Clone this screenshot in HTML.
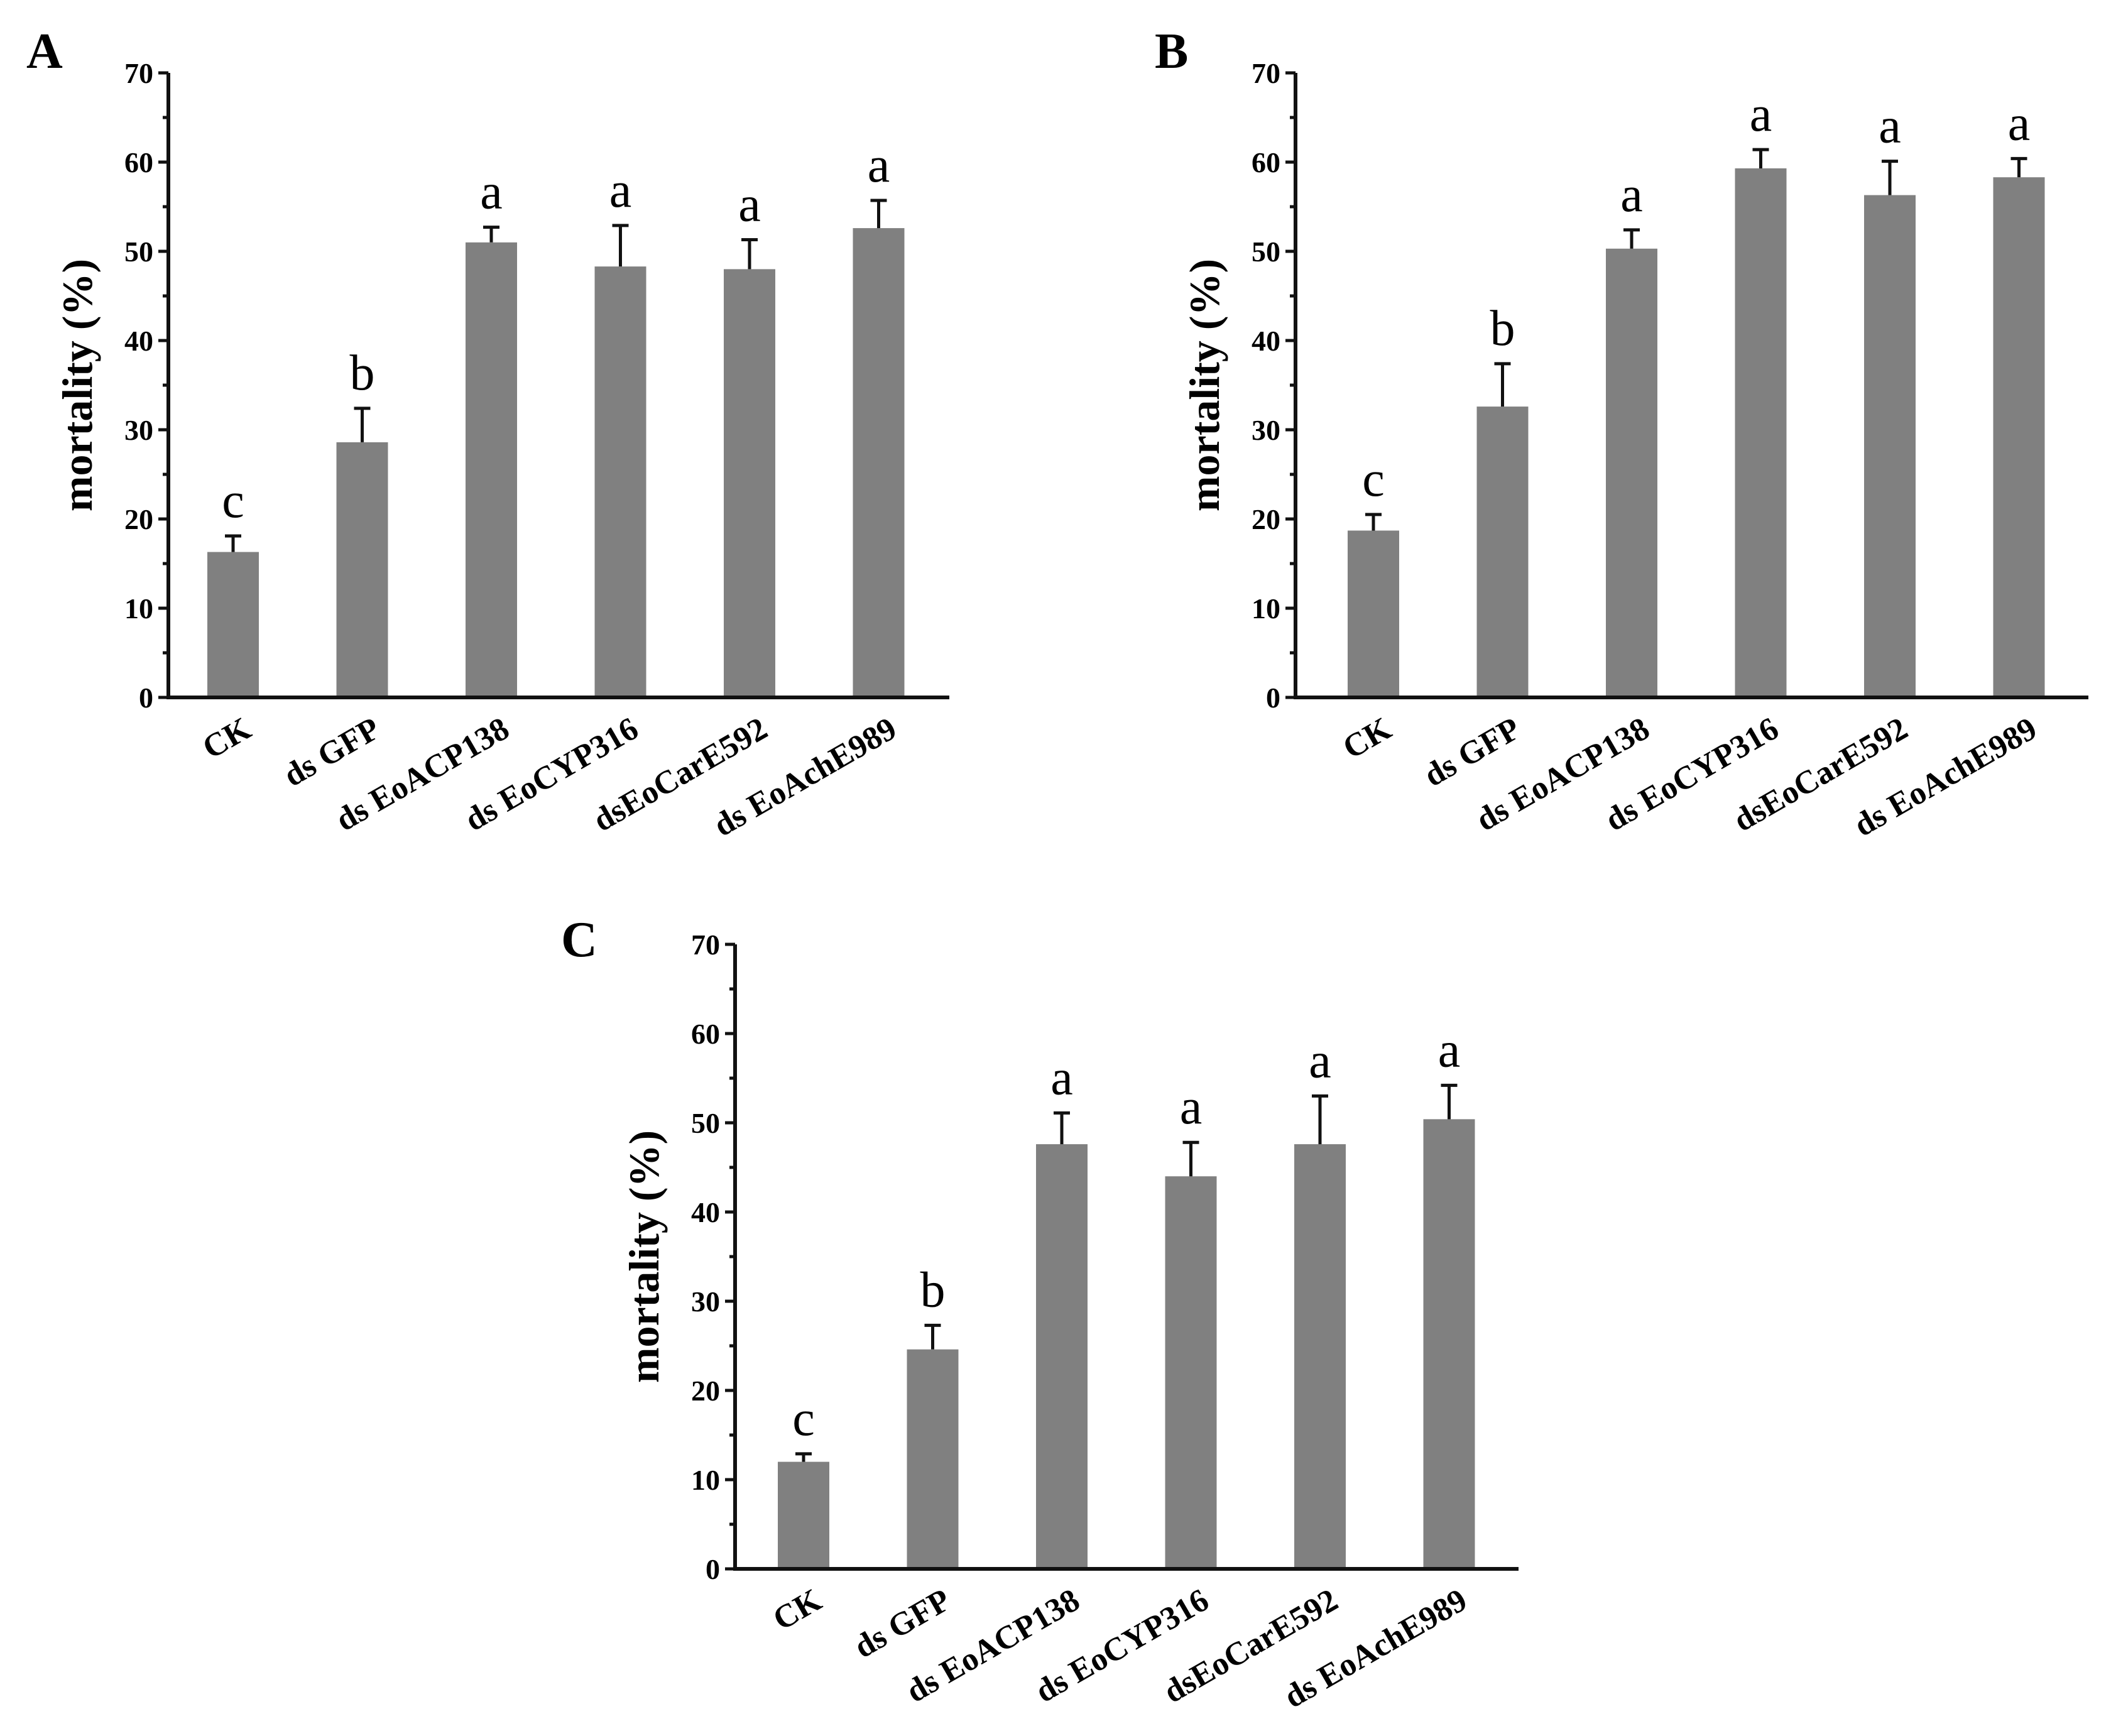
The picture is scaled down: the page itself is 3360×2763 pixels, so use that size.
<!DOCTYPE html>
<html><head><meta charset="utf-8"><style>
body{margin:0;background:#fff}
svg{display:block;font-family:"Liberation Serif",serif}
</style></head><body>
<svg id="fig" width="3360" height="2763" viewBox="0 0 3360 2763" xmlns="http://www.w3.org/2000/svg"></svg>
<script>
const categories=["CK","ds GFP","ds EoACP138","ds EoCYP316","dsEoCarE592","ds EoAchE989"];
const valuesA=[16.3,28.6,51.0,48.3,48.0,52.6];
const errorsA=[1.8,3.8,1.7,4.6,3.3,3.1];
const lettersA=["c","b","a","a","a","a"];
const valuesB=[18.7,32.6,50.3,59.3,56.3,58.3];
const errorsB=[1.8,4.8,2.1,2.1,3.8,2.1];
const lettersB=["c","b","a","a","a","a"];
const valuesC=[12.0,24.6,47.6,44.0,47.6,50.4];
const errorsC=[0.9,2.7,3.5,3.8,5.4,3.8];
const lettersC=["c","b","a","a","a","a"];
const yTicks=[0,10,20,30,40,50,60,70];

const NS="http://www.w3.org/2000/svg";
const svg=document.getElementById('fig');
function mk(tag,attrs,parent,text){const e=document.createElementNS(NS,tag);for(const k in attrs)e.setAttribute(k,attrs[k]);if(text!==undefined)e.textContent=text;parent.appendChild(e);return e;}

function panel(id,ax,ay0,axEnd,firstCx,step,vals,errs,letters,lx,ly){
  const g=mk('g',{},svg);
  
  
  const ppu=142/10;
  const y=v=>ay0-v*ppu;
  const x=i=>firstCx+i*step;
  const pl=mk('text',{x:lx,y:ly,'font-size':80,'font-weight':'bold'},g,id);
  
  
  vals.forEach((v,i)=>{
    const b=mk('rect',{x:x(i)-41,y:y(v),width:82,height:ay0-y(v),fill:'#808080'},g);
    
    
    const et=y(v+errs[i]);
    const e=mk('path',{d:`M${x(i)} ${y(v)}V${et}M${x(i)-13} ${et}H${x(i)+13}`,stroke:'#111','stroke-width':5,fill:'none'},g);
    
    
    const t=mk('text',{x:x(i),y:et-30,'font-size':80,'text-anchor':'middle'},g,letters[i]);
    
    
    const xl=mk('text',{transform:`translate(${x(i)+32},${ay0+60}) rotate(-30)`,'font-size':52,'font-weight':'bold','text-anchor':'end'},g,categories[i]);
    
    
  });
  const axes=mk('path',{d:`M${ax} ${y(70)}V${ay0}H${axEnd}`,stroke:'#111','stroke-width':6,fill:'none'},g);
  
  
  for(let v=0;v<=70;v+=5){
    const len=v%10===0?16:9;
    const tk=mk('line',{x1:ax-len,x2:ax,y1:y(v),y2:y(v),stroke:'#111','stroke-width':5},g);
    
    
  }
  yTicks.forEach(v=>{
    const t=mk('text',{x:ax-24,y:y(v)+16,'font-size':46,'font-weight':'bold','text-anchor':'end'},g,v);
    
    
  });
  const yt=mk('text',{transform:`translate(${ax-122},${y(35)}) rotate(-90)`,'font-size':68,'font-weight':'bold','text-anchor':'middle'},g,'mortality (%)');
  
  
}
panel('A',268,1110,1511,371,205.5,valuesA,errorsA,lettersA,42,108);
panel('B',2062,1110,3324,2186,205.5,valuesB,errorsB,lettersB,1838,108);
panel('C',1170,2497,2417,1279,205.5,valuesC,errorsC,lettersC,893,1522);
</script>
</body></html>
